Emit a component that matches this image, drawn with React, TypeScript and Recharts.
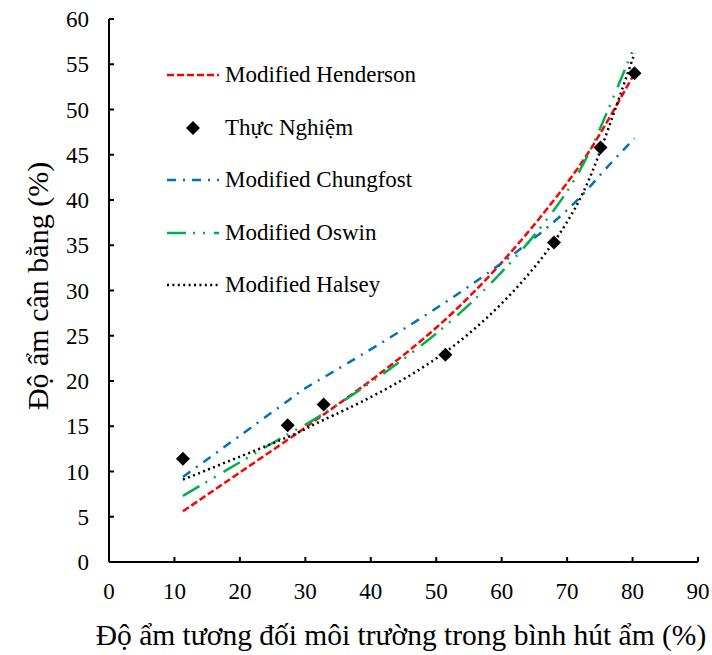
import React from "react";
import {
  ComposedChart,
  Line,
  Scatter,
  XAxis,
  YAxis,
  Legend,
} from "recharts";

// Độ ẩm tương đối (%) tại các điểm thí nghiệm
const humidity = [11.3, 27.3, 32.8, 51.4, 68.0, 75.1, 80.3];
// Độ ẩm cân bằng (%)
const thucNghiem = [11.4, 15.1, 17.4, 22.9, 35.3, 45.8, 54.0];
const henderson = [5.6, 13.5, 16.3, 26.8, 40.0, 47.4, 54.0];
const chungfost = [9.4, 17.8, 20.4, 28.7, 37.6, 42.8, 46.8];
const oswin = [7.3, 14.1, 16.4, 26.1, 38.9, 48.0, 57.0];
const halsey = [9.1, 13.8, 15.7, 23.2, 35.4, 45.5, 56.2];

const xTicks = [0, 10, 20, 30, 40, 50, 60, 70, 80, 90];
const yTicks = [0, 5, 10, 15, 20, 25, 30, 35, 40, 45, 50, 55, 60];

const toPoints = (vals: number[]) => humidity.map((x, i) => ({ x, y: vals[i] }));

const FONT = "'Liberation Serif', 'Times New Roman', serif";

const series = [
  { name: "Modified Henderson", data: henderson, color: "#FF0000", dash: "7 3" },
  { name: "Thực Nghiệm", data: null, color: "#000000", dash: "" },
  { name: "Modified Chungfost", data: chungfost, color: "#0070C0", dash: "9 7 2 7" },
  { name: "Modified Oswin", data: oswin, color: "#00B050", dash: "19 7 2 8 2 9" },
  { name: "Modified Halsey", data: halsey, color: "#000000", dash: "2 3.4" },
];

const Diamond = (props: any) => {
  const { cx, cy } = props;
  const r = 7;
  return (
    <polygon
      points={`${cx},${cy - r} ${cx + r},${cy} ${cx},${cy + r} ${cx - r},${cy}`}
      fill="#000"
    />
  );
};

const LegendBox = () => (
  <div style={{ fontFamily: FONT, fontSize: 23, color: "#000" }}>
    {series.map((s) => (
      <div key={s.name} style={{ display: "flex", alignItems: "center", height: 52.5 }}>
        <svg width={52} height={14} style={{ display: "block" }}>
          {s.data ? (
            <line x1={0} x2={52} y1={7} y2={7} stroke={s.color} strokeWidth={2.5} strokeDasharray={s.dash} />
          ) : (
            <polygon points="26,0 33,7 26,14 19,7" fill="#000" />
          )}
        </svg>
        <span style={{ marginLeft: 6, whiteSpace: "nowrap" }}>{s.name}</span>
      </div>
    ))}
  </div>
);

const tickStyle = { fill: "#000", fontSize: 23, fontFamily: FONT, style: { fontFamily: FONT } };

export default function App() {
  return (
    <div
      style={{
        position: "absolute",
        left: 0,
        top: 0,
        width: 712,
        height: 655,
        background: "#fff",
        fontFamily: FONT,
      }}
    >
      <ComposedChart
        width={712}
        height={655}
        margin={{ top: 19, right: 14, bottom: 0, left: 0 }}
        style={{ fontFamily: FONT }}
      >
        <XAxis
          type="number"
          dataKey="x"
          domain={[0, 90]}
          ticks={xTicks}
          interval={0}
          height={93}
          stroke="#000"
          strokeWidth={2}
          tickSize={-5}
          tickMargin={26}
          tick={tickStyle}
          label={{
            content: () => (
              <text
                x={401}
                y={645}
                textAnchor="middle"
                fontSize={29.5}
                style={{ fontFamily: FONT }}
                fill="#000"
              >
                Độ ẩm tương đối môi trường trong bình hút ẩm (%)
              </text>
            ),
          }}
        />
        <YAxis
          type="number"
          domain={[0, 60]}
          ticks={yTicks}
          interval={0}
          width={109}
          stroke="#000"
          strokeWidth={2}
          tickSize={-5}
          tickMargin={25}
          tick={tickStyle}
          label={{
            content: () => (
              <text
                x={48}
                y={286}
                transform="rotate(-90 48 286)"
                textAnchor="middle"
                fontSize={30}
                style={{ fontFamily: FONT }}
                fill="#000"
              >
                Độ ẩm cân bằng (%)
              </text>
            ),
          }}
        />
        <Legend
          layout="vertical"
          align="center"
          verticalAlign="middle"
          content={() => <LegendBox />}
          wrapperStyle={{ left: 167, top: 49, width: 260, height: 265 }}
        />
        {series
          .filter((s) => s.data)
          .map((s) => (
            <Line
              key={s.name}
              data={toPoints(s.data as number[])}
              dataKey="y"
              type="natural"
              stroke={s.color}
              strokeWidth={2.5}
              strokeDasharray={s.dash}
              dot={false}
              activeDot={false}
              isAnimationActive={false}
            />
          ))}
        <Scatter data={toPoints(thucNghiem)} dataKey="y" shape={<Diamond />} isAnimationActive={false} />
      </ComposedChart>
    </div>
  );
}
